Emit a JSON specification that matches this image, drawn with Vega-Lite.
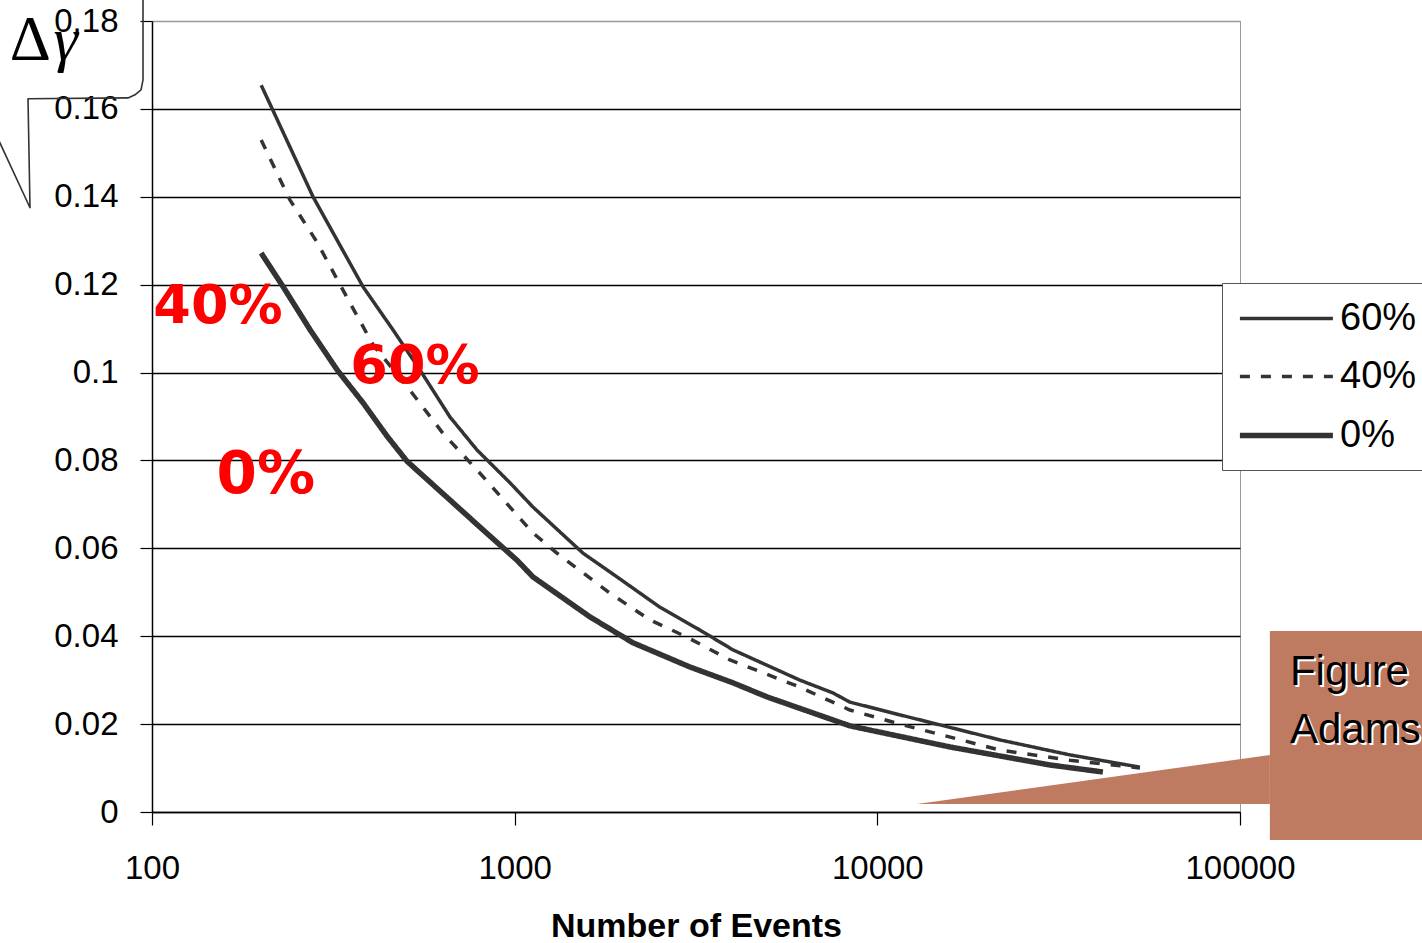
{
  "$schema": "https://vega.github.io/schema/vega-lite/v6.json",
  "autosize": {"type": "none"},
  "padding": {"left": 152, "top": 21, "right": 182, "bottom": 131},
  "width": 1088,
  "height": 791,
  "background": "#ffffff",
  "config": {
    "view": {"stroke": "#999999", "strokeWidth": 1},
    "font": "Liberation Sans"
  },
  "datasets": {
    "curves": [
      {"s": "60%", "N": 200, "v": 0.1654}, {"s": "60%", "N": 214, "v": 0.1602}, {"s": "60%", "N": 278, "v": 0.14},
      {"s": "60%", "N": 382, "v": 0.1195}, {"s": "60%", "N": 462, "v": 0.1097}, {"s": "60%", "N": 548, "v": 0.1006},
      {"s": "60%", "N": 663, "v": 0.0899}, {"s": "60%", "N": 787, "v": 0.0824}, {"s": "60%", "N": 971, "v": 0.0749},
      {"s": "60%", "N": 1123, "v": 0.0694}, {"s": "60%", "N": 1543, "v": 0.0589}, {"s": "60%", "N": 1915, "v": 0.0535},
      {"s": "60%", "N": 2515, "v": 0.0466}, {"s": "60%", "N": 3243, "v": 0.0414}, {"s": "60%", "N": 3998, "v": 0.0369},
      {"s": "60%", "N": 6118, "v": 0.03}, {"s": "60%", "N": 7543, "v": 0.0271}, {"s": "60%", "N": 8404, "v": 0.025},
      {"s": "60%", "N": 11545, "v": 0.0221}, {"s": "60%", "N": 21780, "v": 0.0164}, {"s": "60%", "N": 33960, "v": 0.013},
      {"s": "60%", "N": 52970, "v": 0.0102},
      {"s": "40%", "N": 200, "v": 0.1529}, {"s": "40%", "N": 240, "v": 0.1393}, {"s": "40%", "N": 285, "v": 0.1297},
      {"s": "40%", "N": 336, "v": 0.1188}, {"s": "40%", "N": 407, "v": 0.1063}, {"s": "40%", "N": 514, "v": 0.096},
      {"s": "40%", "N": 634, "v": 0.0862}, {"s": "40%", "N": 802, "v": 0.0771}, {"s": "40%", "N": 1123, "v": 0.0635},
      {"s": "40%", "N": 1308, "v": 0.0589}, {"s": "40%", "N": 1831, "v": 0.0498}, {"s": "40%", "N": 2361, "v": 0.0437},
      {"s": "40%", "N": 2985, "v": 0.0398}, {"s": "40%", "N": 3923, "v": 0.0346}, {"s": "40%", "N": 6118, "v": 0.0284},
      {"s": "40%", "N": 8404, "v": 0.0232}, {"s": "40%", "N": 11545, "v": 0.02}, {"s": "40%", "N": 21780, "v": 0.0141},
      {"s": "40%", "N": 33960, "v": 0.0118}, {"s": "40%", "N": 52970, "v": 0.01},
      {"s": "0%", "N": 200, "v": 0.1272}, {"s": "0%", "N": 230, "v": 0.1195}, {"s": "0%", "N": 273, "v": 0.1097},
      {"s": "0%", "N": 324, "v": 0.1006}, {"s": "0%", "N": 382, "v": 0.0931}, {"s": "0%", "N": 445, "v": 0.0855},
      {"s": "0%", "N": 505, "v": 0.0798}, {"s": "0%", "N": 663, "v": 0.071}, {"s": "0%", "N": 818, "v": 0.0642},
      {"s": "0%", "N": 1015, "v": 0.0573}, {"s": "0%", "N": 1123, "v": 0.0535}, {"s": "0%", "N": 1613, "v": 0.0444},
      {"s": "0%", "N": 2120, "v": 0.0385}, {"s": "0%", "N": 3043, "v": 0.033}, {"s": "0%", "N": 3998, "v": 0.0294},
      {"s": "0%", "N": 4962, "v": 0.0262}, {"s": "0%", "N": 8404, "v": 0.0196}, {"s": "0%", "N": 15860, "v": 0.0148},
      {"s": "0%", "N": 29910, "v": 0.0107}, {"s": "0%", "N": 41880, "v": 0.0091}
    ],
    "bracket": [
      {"o": 0, "N": 94.45, "v": 0.1859}, {"o": 1, "N": 94.45, "v": 0.1666}, {"o": 2, "N": 93.25, "v": 0.1643},
      {"o": 3, "N": 89.76, "v": 0.1632}, {"o": 4, "N": 85.89, "v": 0.1625}, {"o": 5, "N": 45.51, "v": 0.1623},
      {"o": 6, "N": 46.09, "v": 0.1375}, {"o": 7, "N": 36.9, "v": 0.1547}
    ],
    "redlabels": [
      {"t": "40%", "N": 152, "v": 0.1149},
      {"t": "60%", "N": 531, "v": 0.1013}
    ],
    "redlabel0": [
      {"t": "0%", "N": 206, "v": 0.0765}
    ],
    "delta": [{"t": "Δ", "N": 40.5, "v": 0.1711}],
    "gamma": [{"t": "γ", "N": 53.5, "v": 0.1711}],
    "callout": [{"N": 120900, "N2": 600000, "v": 0.0412, "v2": -0.0064}],
    "pointer": [{"N": 12860, "v": 0.00182, "v2": 0.00182}, {"N": 120900, "v": 0.01297, "v2": 0.00182}],
    "figtext": [{"t": "Figure", "N": 137300, "v": 0.0289}, {"t": "Adams", "N": 137300, "v": 0.0157}]
  },
  "encoding": {
    "x": {
      "field": "N", "type": "quantitative",
      "scale": {"type": "log", "domain": [100, 100000], "nice": false},
      "axis": {
        "values": [100, 1000, 10000, 100000], "format": "d", "grid": false,
        "labelFont": "Liberation Sans", "labelFontSize": 33, "labelColor": "#000000", "labelPadding": 27, "labelFlush": false,
        "tickSize": 13, "tickColor": "#000000", "tickWidth": 1.2, "domainColor": "#000000", "domainWidth": 1.5,
        "title": "Number of Events", "titleFont": "Liberation Sans", "titleFontSize": 34, "titleFontWeight": "bold",
        "titleColor": "#000000", "titlePadding": 24
      }
    },
    "y": {
      "field": "v", "type": "quantitative",
      "scale": {"domain": [0, 0.18], "nice": false, "zero": false},
      "axis": {
        "values": [0, 0.02, 0.04, 0.06, 0.08, 0.1, 0.12, 0.14, 0.16, 0.18], "format": "~g",
        "labelFont": "Liberation Sans", "labelFontSize": 33, "labelColor": "#000000", "labelPadding": 22, "labelFlush": false,
        "tickSize": 12, "tickColor": "#000000", "tickWidth": 1.2, "domainColor": "#000000", "domainWidth": 1.5,
        "grid": true, "gridWidth": 1.3,
        "gridColor": {"condition": {"test": "datum.value >= 0.179", "value": "#999999"}, "value": "#000000"},
        "title": null
      }
    }
  },
  "layer": [
    {
      "data": {"name": "bracket"},
      "mark": {"type": "line", "stroke": "#333333", "strokeWidth": 1.6, "strokeJoin": "round"},
      "encoding": {"order": {"field": "o", "type": "quantitative"}}
    },
    {
      "data": {"name": "curves"},
      "mark": {"type": "line", "color": "#333333", "strokeJoin": "round", "strokeCap": "butt"},
      "encoding": {
        "strokeDash": {
          "field": "s", "type": "nominal",
          "scale": {"domain": ["60%", "40%", "0%"], "range": [[1, 0], [10, 11], [1, 0]]},
          "legend": {
            "title": null, "orient": "none", "legendX": 1070, "legendY": 262,
            "symbolType": "M-1,0H4", "symbolSize": 1384, "symbolStrokeColor": "#333333", "symbolFillColor": "transparent",
            "labelFont": "Liberation Sans", "labelFontSize": 38, "labelColor": "#000000", "labelOffset": 60,
            "fillColor": "#ffffff", "strokeColor": "#555555", "padding": 15, "rowPadding": 18
          }
        },
        "strokeWidth": {
          "field": "s", "type": "nominal",
          "scale": {"type": "ordinal", "domain": ["60%", "40%", "0%"], "range": [3.5, 3.5, 5.5]},
          "legend": {
            "title": null, "orient": "none", "legendX": 1070, "legendY": 262,
            "symbolType": "M-1,0H4", "symbolSize": 1384, "symbolStrokeColor": "#333333", "symbolFillColor": "transparent",
            "labelFont": "Liberation Sans", "labelFontSize": 38, "labelColor": "#000000", "labelOffset": 60,
            "fillColor": "#ffffff", "strokeColor": "#555555", "padding": 15, "rowPadding": 18
          }
        }
      }
    },
    {
      "data": {"name": "redlabels"},
      "mark": {"type": "text", "font": "DejaVu Sans", "fontWeight": "bold", "fontSize": 54, "color": "#ff0000", "align": "center", "baseline": "middle"},
      "encoding": {"text": {"field": "t"}}
    },
    {
      "data": {"name": "redlabel0"},
      "mark": {"type": "text", "font": "DejaVu Sans", "fontWeight": "bold", "fontSize": 58, "color": "#ff0000", "align": "center", "baseline": "middle"},
      "encoding": {"text": {"field": "t"}}
    },
    {
      "data": {"name": "delta"},
      "mark": {"type": "text", "font": "Liberation Serif", "fontSize": 64, "color": "#000000", "align": "left", "baseline": "alphabetic"},
      "encoding": {"text": {"field": "t"}}
    },
    {
      "data": {"name": "gamma"},
      "mark": {"type": "text", "font": "Liberation Serif", "fontStyle": "italic", "fontSize": 62, "color": "#000000", "align": "left", "baseline": "alphabetic"},
      "encoding": {"text": {"field": "t"}}
    },
    {
      "data": {"name": "pointer"},
      "mark": {"type": "area", "color": "#BE7B62", "opacity": 1},
      "encoding": {"y2": {"field": "v2"}}
    },
    {
      "data": {"name": "callout"},
      "mark": {"type": "rect", "color": "#BE7B62", "opacity": 1},
      "encoding": {"x2": {"field": "N2"}, "y2": {"field": "v2"}}
    },
    {
      "data": {"name": "figtext"},
      "mark": {"type": "text", "font": "Liberation Sans", "fontSize": 42, "color": "#ffffff", "align": "left", "baseline": "alphabetic", "dx": 2, "dy": 2},
      "encoding": {"text": {"field": "t"}}
    },
    {
      "data": {"name": "figtext"},
      "mark": {"type": "text", "font": "Liberation Sans", "fontSize": 42, "color": "#000000", "align": "left", "baseline": "alphabetic"},
      "encoding": {"text": {"field": "t"}}
    }
  ]
}
